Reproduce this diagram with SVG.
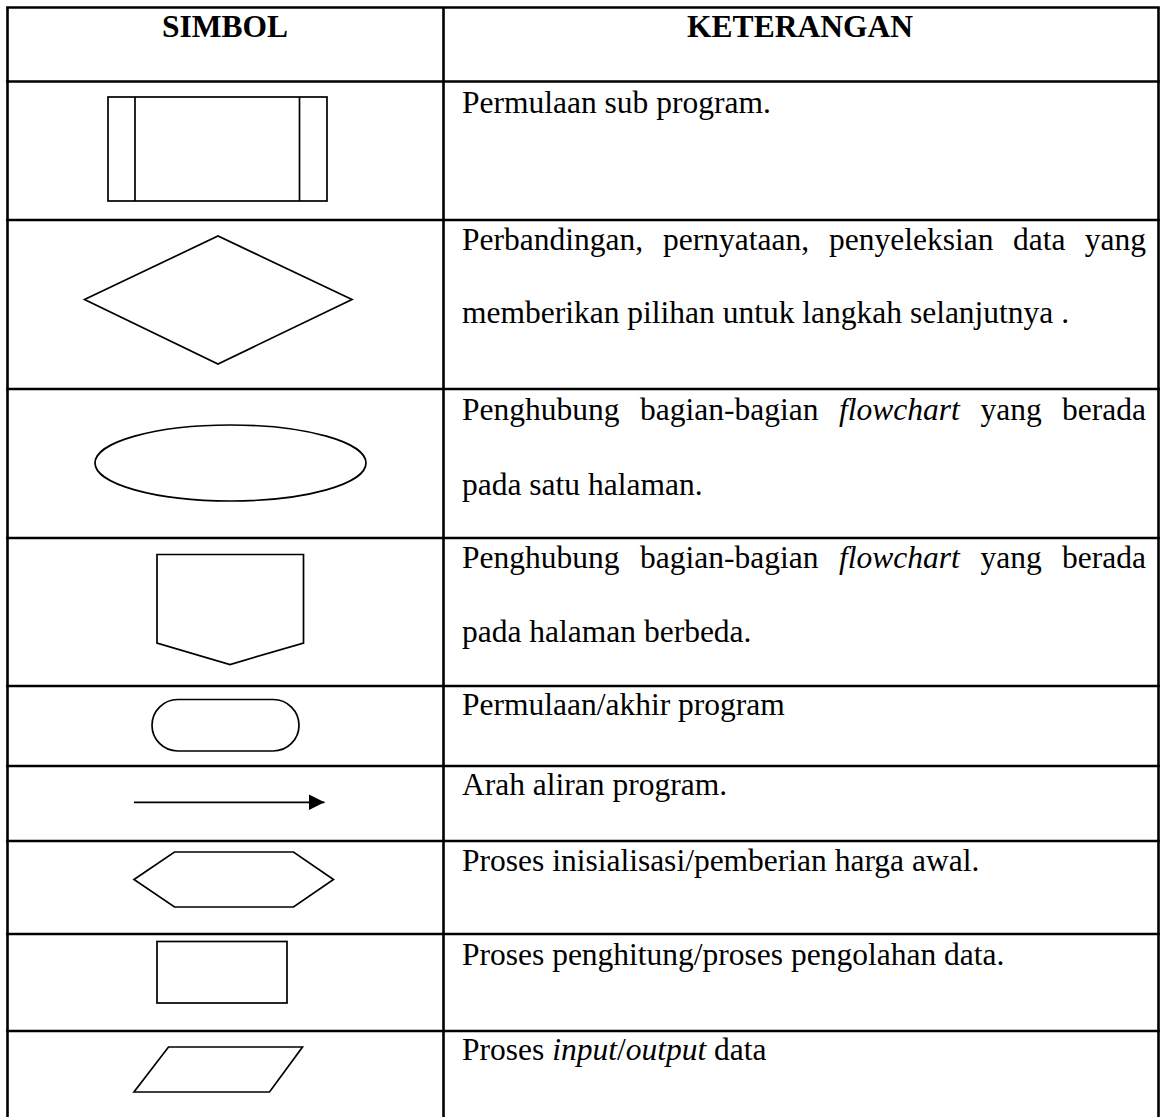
<svg xmlns="http://www.w3.org/2000/svg" width="1162" height="1117" viewBox="0 0 1162 1117">
<style>
.grid{stroke:#000;stroke-width:2.6;fill:none}
.sym{stroke:#000;stroke-width:1.7;fill:#fff;stroke-linejoin:miter}
.t{font-family:"Liberation Serif","Times New Roman",serif;font-size:31.5px;fill:#000}
.b{font-weight:bold}
.i{font-style:italic}
</style>
<defs>
<marker id="arrowhead" markerUnits="userSpaceOnUse" markerWidth="18" markerHeight="18" refX="15.5" refY="8" orient="auto">
<path d="M0,0.3 L15.5,8 L0,15.7 Z" fill="#000"/>
</marker>
</defs>
<rect width="1162" height="1117" fill="#fff"/>
<g id="table-grid" class="grid">
<line x1="7.5" y1="7.5" x2="7.5" y2="1117"/>
<line x1="443.5" y1="7.5" x2="443.5" y2="1117"/>
<line x1="1158.5" y1="7.5" x2="1158.5" y2="1117"/>
<line x1="6.2" y1="7.5" x2="1159.8" y2="7.5"/>
<line x1="6.2" y1="81.5" x2="1159.8" y2="81.5"/>
<line x1="6.2" y1="220" x2="1159.8" y2="220"/>
<line x1="6.2" y1="389" x2="1159.8" y2="389"/>
<line x1="6.2" y1="538" x2="1159.8" y2="538"/>
<line x1="6.2" y1="686" x2="1159.8" y2="686"/>
<line x1="6.2" y1="766" x2="1159.8" y2="766"/>
<line x1="6.2" y1="841" x2="1159.8" y2="841"/>
<line x1="6.2" y1="934" x2="1159.8" y2="934"/>
<line x1="6.2" y1="1031" x2="1159.8" y2="1031"/>
</g>
<g id="header">
<text class="t b" x="225" y="37" text-anchor="middle">SIMBOL</text>
<text class="t b" x="800" y="37" text-anchor="middle">KETERANGAN</text>
</g>
<g id="sym-subprogram" class="sym">
<rect x="108" y="97" width="219" height="104"/>
<line x1="135" y1="97" x2="135" y2="201"/>
<line x1="299.5" y1="97" x2="299.5" y2="201"/>
</g>
<g id="sym-decision">
<polygon class="sym" points="84.5,299.5 218,236 352,299.5 218,364"/>
</g>
<g id="sym-connector">
<ellipse class="sym" cx="230.5" cy="463" rx="135.5" ry="38"/>
</g>
<g id="sym-offpage">
<polygon class="sym" points="157,554.5 303.5,554.5 303.5,643 230,664.5 157,643"/>
</g>
<g id="sym-terminator">
<rect class="sym" x="152" y="699.5" width="147" height="51.5" rx="25.75" ry="25.75"/>
</g>
<g id="connectors">
<g id="sym-flow">
<line x1="134" y1="802.3" x2="324.5" y2="802.3" stroke="#000" stroke-width="1.8" marker-end="url(#arrowhead)"/>
</g>
</g>
<g id="sym-preparation">
<polygon class="sym" points="134,879.5 174.5,852 293.5,852 333.5,879.5 293.5,907 174.5,907"/>
</g>
<g id="sym-process">
<rect class="sym" x="157" y="941.5" width="130" height="61.5"/>
</g>
<g id="sym-io">
<polygon class="sym" points="168.5,1047 302.5,1047 269.5,1092 134,1092"/>
</g>
<g id="desc-subprogram">
<text class="t" x="462" y="113">Permulaan sub program.</text>
</g>
<g id="desc-decision">
<text class="t" x="462" y="250">Perbandingan,</text>
<text class="t" x="663" y="250">pernyataan,</text>
<text class="t" x="829" y="250">penyeleksian</text>
<text class="t" x="1013" y="250">data</text>
<text class="t" x="1146" y="250" text-anchor="end">yang</text>
<text class="t" x="462" y="323">memberikan pilihan untuk langkah selanjutnya .</text>
</g>
<g id="desc-connector">
<text class="t" x="462" y="420">Penghubung</text>
<text class="t" x="640" y="420">bagian-bagian</text>
<text class="t i" x="839" y="420">flowchart</text>
<text class="t" x="980.5" y="420">yang</text>
<text class="t" x="1146" y="420" text-anchor="end">berada</text>
<text class="t" x="462" y="495">pada satu halaman.</text>
</g>
<g id="desc-offpage">
<text class="t" x="462" y="568">Penghubung</text>
<text class="t" x="640" y="568">bagian-bagian</text>
<text class="t i" x="839" y="568">flowchart</text>
<text class="t" x="980.5" y="568">yang</text>
<text class="t" x="1146" y="568" text-anchor="end">berada</text>
<text class="t" x="462" y="642">pada halaman berbeda.</text>
</g>
<g id="desc-terminator">
<text class="t" x="462" y="715">Permulaan/akhir program</text>
</g>
<g id="desc-flow">
<text class="t" x="462" y="795">Arah aliran program.</text>
</g>
<g id="desc-preparation">
<text class="t" x="462" y="871">Proses inisialisasi/pemberian harga awal.</text>
</g>
<g id="desc-process">
<text class="t" x="462" y="965">Proses penghitung/proses pengolahan data.</text>
</g>
<g id="desc-io">
<text class="t" x="462" y="1060">Proses <tspan class="i">input</tspan>/<tspan class="i">output</tspan> data</text>
</g>
</svg>
